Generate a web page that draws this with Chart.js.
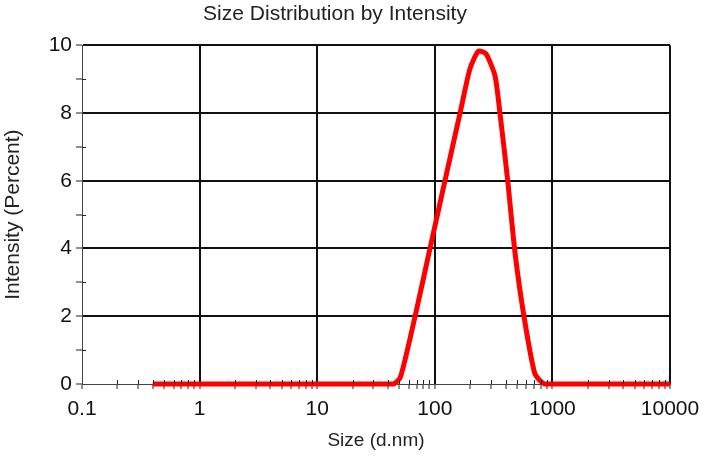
<!DOCTYPE html>
<html>
<head>
<meta charset="utf-8">
<script src="https://cdn.jsdelivr.net/npm/chart.js@4/dist/chart.umd.min.js"></script>
<style>
  html, body { margin: 0; padding: 0; background: #fff; }
  #wrap { width: 710px; height: 457px; }
</style>
</head>
<body>
<div id="wrap"><canvas id="sizeChart"></canvas></div>
<script>
// Data (size in d.nm, intensity in %)
const sizes = [0.4, 44, 51, 68, 91, 122, 164, 199, 234, 272, 325, 358, 417, 480, 573, 710, 865, 10000];
const intensity = [0, 0, 0.2, 2.0, 4.0, 6.0, 8.0, 9.3, 9.82, 9.75, 9.1, 8.0, 6.0, 3.9, 2.0, 0.3, 0, 0];

// Axis ticks
const decades = [0.1, 1, 10, 100, 1000, 10000];
const yTicks = [0, 1, 2, 3, 4, 5, 6, 7, 8, 9, 10];
const yLabels = [0, 2, 4, 6, 8, 10];

const FONT = "'Liberation Sans', Arial, sans-serif";
const ctx = document.getElementById('sizeChart').getContext('2d');

function isDecade(v) {
    return decades.some(d => Math.abs(d - v) < 1e-9);
}

// every 1..9 multiple inside the decades
function logTicks() {
    const out = [];
    for (let i = 0; i < decades.length - 1; i++) {
        for (let m = 1; m < 10; m++) out.push({ value: decades[i] * m });
    }
    out.push({ value: decades[decades.length - 1] });
    return out;
}

// inner half of the small ticks, drawn over the curve like the original
const innerTicks = {
    id: 'innerTicks',
    afterDatasetsDraw(chart) {
        const { ctx, chartArea, scales } = chart;
        ctx.save();
        ctx.strokeStyle = '#222';
        ctx.lineWidth = 1;
        ctx.beginPath();
        scales.x.ticks.forEach(t => {
            if (isDecade(t.value)) return;
            const px = Math.round(scales.x.getPixelForValue(t.value)) + 0.5;
            ctx.moveTo(px, chartArea.bottom - 4);
            ctx.lineTo(px, chartArea.bottom);
        });
        scales.y.ticks.forEach(t => {
            if (t.value % 2 === 0) return;
            const py = Math.round(scales.y.getPixelForValue(t.value)) + 0.5;
            ctx.moveTo(chartArea.left, py);
            ctx.lineTo(chartArea.left + 4, py);
        });
        ctx.stroke();
        ctx.restore();
    }
};

new Chart(ctx, {
    type: 'line',
    data: {
        datasets: [{
            data: sizes.map((s, i) => ({ x: s, y: intensity[i] })),
            borderColor: '#ff0000',
            borderWidth: 5,
            pointRadius: 0,
            tension: 0.2,
            borderJoinStyle: 'round',
            clip: 8
        }]
    },
    options: {
        responsive: true,
        maintainAspectRatio: false,
        animation: false,
        layout: { padding: { left: 0, right: 40, top: 0, bottom: 0 } },
        plugins: {
            legend: { display: false },
            tooltip: { enabled: false },
            title: {
                display: true,
                text: 'Size Distribution by Intensity',
                color: '#222',
                font: { family: FONT, size: 21, weight: 'normal' },
                padding: { top: 2, bottom: 18 }
            }
        },
        scales: {
            x: {
                type: 'logarithmic',
                min: 0.1,
                max: 10000,
                afterBuildTicks: scale => { scale.ticks = logTicks(); },
                afterFit: scale => { scale.height = 73; },
                grid: {
                    color: c => (isDecade(c.tick.value) && c.tick.value > 0.1) ? '#111' : 'rgba(0,0,0,0)',
                    lineWidth: 2,
                    tickColor: '#222',
                    tickWidth: 1,
                    tickLength: 5
                },
                border: { display: true, color: '#444', width: 1 },
                ticks: {
                    autoSkip: false,
                    maxRotation: 0,
                    padding: 8,
                    color: '#111',
                    font: { family: FONT, size: 21 },
                    callback: v => isDecade(v) ? String(v) : ''
                },
                title: {
                    display: true,
                    text: 'Size (d.nm)',
                    color: '#222',
                    font: { family: FONT, size: 19 },
                    padding: { top: 0, bottom: 5 }
                }
            },
            y: {
                min: 0,
                max: 10,
                afterBuildTicks: scale => { scale.ticks = yTicks.map(v => ({ value: v })); },
                afterFit: scale => { scale.width = 82; },
                grid: {
                    color: c => (c.tick.value % 2 === 0 && c.tick.value > 0) ? '#111' : 'rgba(0,0,0,0)',
                    lineWidth: 2,
                    tickColor: '#222',
                    tickWidth: 1,
                    tickLength: 6
                },
                border: { display: true, color: '#444', width: 1 },
                ticks: {
                    padding: 4,
                    color: '#111',
                    font: { family: FONT, size: 21 },
                    callback: v => yLabels.includes(v) ? String(v) : ''
                },
                title: {
                    display: true,
                    text: 'Intensity (Percent)',
                    color: '#222',
                    font: { family: FONT, size: 21 },
                    padding: { top: 1, bottom: 0 }
                }
            }
        }
    },
    plugins: [innerTicks]
});
</script>
</body>
</html>
